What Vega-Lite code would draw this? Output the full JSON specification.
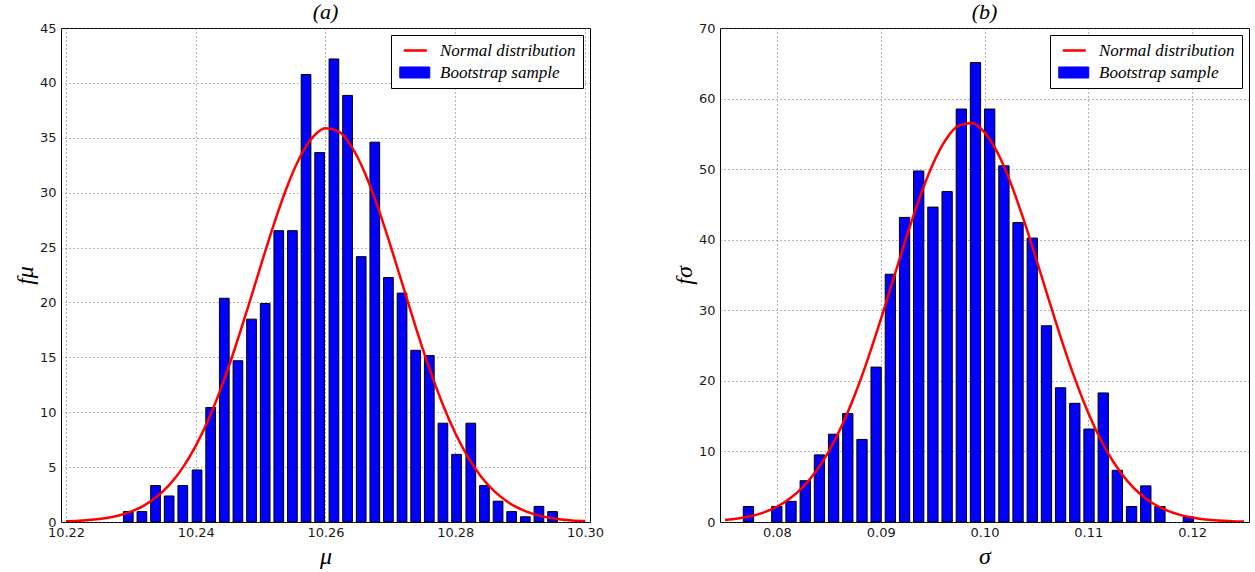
{
  "$schema": "https://vega.github.io/schema/vega-lite/v6.json",
  "background": "white",
  "padding": {"left": 12, "top": 0, "right": 0, "bottom": 0},
  "config": {
    "view": {"stroke": "black", "strokeWidth": 1},
    "axis": {
      "labelFont": "DejaVu Sans", "labelFontSize": 13, "labelColor": "#1a1a1a",
      "ticks": false, "domain": false, "grid": true,
      "gridColor": "#555555", "gridDash": [1, 3], "gridOpacity": 0.85, "gridWidth": 1,
      "titleFont": "Liberation Serif", "titleFontSize": 24, "titleFontStyle": "italic",
      "titleFontWeight": "normal", "titleColor": "black",
      "labelPadding": 5, "zindex": 1, "labelFlush": false, "labelOverlap": false
    },
    "axisX": {"labelPadding": 4, "titlePadding": 5},
    "axisY": {"titlePadding": 2},
    "title": {"font": "Liberation Serif", "fontSize": 22, "fontWeight": "normal", "fontStyle": "italic", "color": "black", "offset": -2},
    "legend": {
      "orient": "top-right", "offset": 7, "strokeColor": "black", "fillColor": "white",
      "padding": 7, "cornerRadius": 0, "labelFont": "Liberation Serif", "labelFontStyle": "italic",
      "labelFontSize": 17, "labelColor": "black", "labelOffset": 25, "symbolSize": 256, "rowPadding": 4, "labelLimit": 300,
      "symbolOpacity": 1
    }
  },
  "datasets": {
    "barsA": [
      {"mu": 10.2296, "density": 0.948}, {"mu": 10.2317, "density": 0.948}, {"mu": 10.2338, "density": 3.317},
      {"mu": 10.2359, "density": 2.37}, {"mu": 10.238, "density": 3.317}, {"mu": 10.2402, "density": 4.739},
      {"mu": 10.2423, "density": 10.43}, {"mu": 10.2444, "density": 20.38}, {"mu": 10.2465, "density": 14.69},
      {"mu": 10.2486, "density": 18.48}, {"mu": 10.2507, "density": 19.9}, {"mu": 10.2528, "density": 26.54},
      {"mu": 10.2549, "density": 26.54}, {"mu": 10.257, "density": 40.76}, {"mu": 10.2591, "density": 33.65},
      {"mu": 10.2613, "density": 42.18}, {"mu": 10.2634, "density": 38.86}, {"mu": 10.2655, "density": 24.17},
      {"mu": 10.2676, "density": 34.6}, {"mu": 10.2697, "density": 22.27}, {"mu": 10.2718, "density": 20.85},
      {"mu": 10.2739, "density": 15.64}, {"mu": 10.276, "density": 15.16}, {"mu": 10.2781, "density": 9.0},
      {"mu": 10.2802, "density": 6.16}, {"mu": 10.2824, "density": 9.0}, {"mu": 10.2845, "density": 3.317},
      {"mu": 10.2866, "density": 1.896}, {"mu": 10.2887, "density": 0.948}, {"mu": 10.2908, "density": 0.474},
      {"mu": 10.2929, "density": 1.422}, {"mu": 10.295, "density": 0.948}
    ],
    "curveA": [
      {"mu": 10.22, "f": 0.058}, {"mu": 10.222, "f": 0.108}, {"mu": 10.224, "f": 0.195}, {"mu": 10.226, "f": 0.34},
      {"mu": 10.228, "f": 0.574}, {"mu": 10.23, "f": 0.94}, {"mu": 10.232, "f": 1.49}, {"mu": 10.234, "f": 2.3},
      {"mu": 10.236, "f": 3.42}, {"mu": 10.238, "f": 4.95}, {"mu": 10.24, "f": 6.93}, {"mu": 10.242, "f": 9.4},
      {"mu": 10.244, "f": 12.36}, {"mu": 10.246, "f": 15.76}, {"mu": 10.248, "f": 19.47}, {"mu": 10.25, "f": 23.31},
      {"mu": 10.252, "f": 27.05}, {"mu": 10.254, "f": 30.43}, {"mu": 10.256, "f": 33.16}, {"mu": 10.258, "f": 35.03},
      {"mu": 10.26, "f": 35.86}, {"mu": 10.262, "f": 35.59}, {"mu": 10.264, "f": 34.22}, {"mu": 10.266, "f": 31.89},
      {"mu": 10.268, "f": 28.8}, {"mu": 10.27, "f": 25.21}, {"mu": 10.272, "f": 21.39}, {"mu": 10.274, "f": 17.58},
      {"mu": 10.276, "f": 14.01}, {"mu": 10.278, "f": 10.82}, {"mu": 10.28, "f": 8.1}, {"mu": 10.282, "f": 5.87},
      {"mu": 10.284, "f": 4.13}, {"mu": 10.286, "f": 2.81}, {"mu": 10.288, "f": 1.86}, {"mu": 10.29, "f": 1.19},
      {"mu": 10.292, "f": 0.738}, {"mu": 10.294, "f": 0.443}, {"mu": 10.296, "f": 0.258}, {"mu": 10.298, "f": 0.146},
      {"mu": 10.3, "f": 0.08}
    ],
    "barsB": [
      {"sigma": 0.07726, "density": 2.19}, {"sigma": 0.07999, "density": 2.19}, {"sigma": 0.08136, "density": 2.93},
      {"sigma": 0.08273, "density": 5.85}, {"sigma": 0.0841, "density": 9.51}, {"sigma": 0.08546, "density": 12.44},
      {"sigma": 0.08683, "density": 15.36}, {"sigma": 0.0882, "density": 11.7}, {"sigma": 0.08956, "density": 21.95},
      {"sigma": 0.09093, "density": 35.11}, {"sigma": 0.0923, "density": 43.16}, {"sigma": 0.09366, "density": 49.74},
      {"sigma": 0.09503, "density": 44.62}, {"sigma": 0.0964, "density": 46.82}, {"sigma": 0.09777, "density": 58.52},
      {"sigma": 0.09913, "density": 65.1}, {"sigma": 0.1005, "density": 58.52}, {"sigma": 0.10187, "density": 50.47},
      {"sigma": 0.10323, "density": 42.43}, {"sigma": 0.1046, "density": 40.23}, {"sigma": 0.10597, "density": 27.8},
      {"sigma": 0.10733, "density": 19.02}, {"sigma": 0.1087, "density": 16.82}, {"sigma": 0.11007, "density": 13.17},
      {"sigma": 0.11144, "density": 18.29}, {"sigma": 0.1128, "density": 7.32}, {"sigma": 0.11417, "density": 2.19},
      {"sigma": 0.11554, "density": 5.12}, {"sigma": 0.1169, "density": 2.19}, {"sigma": 0.11964, "density": 0.73}
    ],
    "curveB": [
      {"sigma": 0.075, "f": 0.288}, {"sigma": 0.07625, "f": 0.499}, {"sigma": 0.0775, "f": 0.838}, {"sigma": 0.07875, "f": 1.366},
      {"sigma": 0.08, "f": 2.16}, {"sigma": 0.08125, "f": 3.318}, {"sigma": 0.0825, "f": 4.942}, {"sigma": 0.08375, "f": 7.143},
      {"sigma": 0.085, "f": 10.01}, {"sigma": 0.08625, "f": 13.63}, {"sigma": 0.0875, "f": 18.0}, {"sigma": 0.08875, "f": 23.05},
      {"sigma": 0.09, "f": 28.66}, {"sigma": 0.09125, "f": 34.57}, {"sigma": 0.0925, "f": 40.46}, {"sigma": 0.09375, "f": 45.95},
      {"sigma": 0.095, "f": 50.63}, {"sigma": 0.09625, "f": 54.13}, {"sigma": 0.0975, "f": 56.16}, {"sigma": 0.09875, "f": 56.53},
      {"sigma": 0.1, "f": 55.22}, {"sigma": 0.10125, "f": 52.33}, {"sigma": 0.1025, "f": 48.13}, {"sigma": 0.10375, "f": 42.94},
      {"sigma": 0.105, "f": 37.19}, {"sigma": 0.10625, "f": 31.24}, {"sigma": 0.1075, "f": 25.46}, {"sigma": 0.10875, "f": 20.14},
      {"sigma": 0.11, "f": 15.46}, {"sigma": 0.11125, "f": 11.51}, {"sigma": 0.1125, "f": 8.32}, {"sigma": 0.11375, "f": 5.83},
      {"sigma": 0.115, "f": 3.97}, {"sigma": 0.11625, "f": 2.62}, {"sigma": 0.1175, "f": 1.68}, {"sigma": 0.11875, "f": 1.04},
      {"sigma": 0.12, "f": 0.629}, {"sigma": 0.12125, "f": 0.368}, {"sigma": 0.1225, "f": 0.209}, {"sigma": 0.12375, "f": 0.115},
      {"sigma": 0.125, "f": 0.062}
    ]
  },
  "spacing": 66,
  "resolve": {"scale": {"color": "independent", "x": "independent", "y": "independent"}, "legend": {"color": "independent"}},
  "hconcat": [
    {
      "width": 529, "height": 494,
      "title": {"text": "(a)"},
      "layer": [
        {
          "data": {"name": "barsA"},
          "mark": {"type": "bar", "orient": "vertical", "width": 9.7, "stroke": "black", "strokeWidth": 1, "opacity": 1},
          "encoding": {
            "x": {"field": "mu", "type": "quantitative", "scale": {"domain": [10.22, 10.3], "nice": false, "zero": false},
                  "axis": {"values": [10.22, 10.24, 10.26, 10.28, 10.3], "format": ".2f", "title": "μ"}},
            "y": {"field": "density", "type": "quantitative", "scale": {"domain": [0, 45], "nice": false},
                  "axis": {"values": [0, 5, 10, 15, 20, 25, 30, 35, 40, 45], "title": "fμ"}},
            "color": {"datum": "Bootstrap sample", "type": "nominal",
              "scale": {"domain": ["Normal distribution", "Bootstrap sample"], "range": ["red", "blue"]},
              "legend": {"title": null,
                "symbolType": {"expr": "datum.value === 'Normal distribution' ? 'M-0.34,-0.16H2.54V0.16H-0.34Z' : 'M-0.84,-0.69H2.91V0.69H-0.84Z'"},
                "symbolStrokeColor": {"expr": "datum.value === 'Normal distribution' ? 'red' : 'black'"},
                "symbolStrokeWidth": {"expr": "datum.value === 'Normal distribution' ? 0 : 1"}}
            }
          }
        },
        {
          "data": {"name": "curveA"},
          "mark": {"type": "line", "strokeWidth": 2.5, "interpolate": "monotone", "clip": true},
          "encoding": {
            "x": {"field": "mu", "type": "quantitative"},
            "y": {"field": "f", "type": "quantitative"},
            "color": {"datum": "Normal distribution", "type": "nominal"}
          }
        }
      ]
    },
    {
      "width": 529, "height": 494,
      "title": {"text": "(b)"},
      "layer": [
        {
          "data": {"name": "barsB"},
          "mark": {"type": "bar", "orient": "vertical", "width": 10.3, "stroke": "black", "strokeWidth": 1, "opacity": 1},
          "encoding": {
            "x": {"field": "sigma", "type": "quantitative", "scale": {"domain": [0.075, 0.125], "nice": false, "zero": false},
                  "axis": {"values": [0.08, 0.09, 0.1, 0.11, 0.12], "format": ".2f", "title": "σ"}},
            "y": {"field": "density", "type": "quantitative", "scale": {"domain": [0, 70], "nice": false},
                  "axis": {"values": [0, 10, 20, 30, 40, 50, 60, 70], "title": "fσ"}},
            "color": {"datum": "Bootstrap sample", "type": "nominal",
              "scale": {"domain": ["Normal distribution", "Bootstrap sample"], "range": ["red", "blue"]},
              "legend": {"title": null,
                "symbolType": {"expr": "datum.value === 'Normal distribution' ? 'M-0.34,-0.16H2.54V0.16H-0.34Z' : 'M-0.84,-0.69H2.91V0.69H-0.84Z'"},
                "symbolStrokeColor": {"expr": "datum.value === 'Normal distribution' ? 'red' : 'black'"},
                "symbolStrokeWidth": {"expr": "datum.value === 'Normal distribution' ? 0 : 1"}}
            }
          }
        },
        {
          "data": {"name": "curveB"},
          "mark": {"type": "line", "strokeWidth": 2.5, "interpolate": "monotone", "clip": true},
          "encoding": {
            "x": {"field": "sigma", "type": "quantitative"},
            "y": {"field": "f", "type": "quantitative"},
            "color": {"datum": "Normal distribution", "type": "nominal"}
          }
        }
      ]
    }
  ]
}
